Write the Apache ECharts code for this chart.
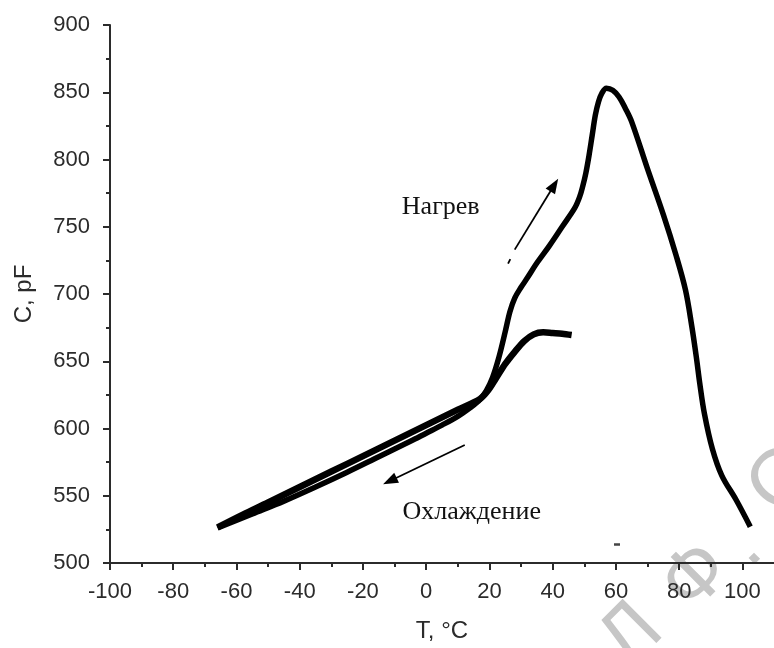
<!DOCTYPE html>
<html>
<head>
<meta charset="utf-8">
<script src="https://cdn.jsdelivr.net/npm/echarts@6/dist/echarts.min.js"></script>
<style>
  html, body { margin: 0; padding: 0; background: #fff; }
  #chart { width: 774px; height: 648px; }
</style>
</head>
<body>
<div id="chart"></div>
<script>
// heating branch (Нагрев): T, C
const heatT = [-66, -55, -45, -35, -25, -15, -5, 0, 5, 10, 14, 17, 19, 21, 23, 25, 26.5, 28, 30, 32, 35, 39, 43, 47, 48.5, 49.5, 50.5, 51.5, 52.5, 53.5, 54.5, 55.5, 57, 59, 61, 63, 65, 70, 75, 79, 82, 84, 85.5, 86.5, 88, 90.5, 93.5, 98, 102.5]
const heatC = [526, 536.5, 546, 556.5, 567.5, 579, 590.5, 596.5, 602.5, 609, 615.5, 621.5, 628, 638, 653, 672, 687, 697, 705, 712, 723, 736, 750, 764, 772, 780, 790, 803, 818, 833, 843, 849, 853, 851.5, 846.5, 838, 828, 793, 759, 729, 703, 676, 652, 634, 611, 585, 565, 547, 527]

// cooling branch (Охлаждение)
const coolT = [46, 43, 40, 37, 34, 31, 28, 25, 22, 19.5, 17, 10, 0, -10, -20, -30, -40, -50, -58, -66]
const coolC = [669.5, 670.5, 671, 671.5, 670, 665, 657, 648, 637, 628, 622, 614, 602.5, 591, 579.5, 568, 556.5, 545, 536, 526.5]

const xTicks = [-100, -80, -60, -40, -20, 0, 20, 40, 60, 80, 100]

// arrows and small strokes: [start, end] in data units
const heatArrow = [[28, 733], [40.5, 781]]
const heatDash = [[25.9, 722.5], [26.6, 726]]
const coolArrow = [[12.2, 587.7], [-11.5, 561]]
const strayDash = [[59.4, 513.6], [61.3, 513.6]]

const labelFont = 'Liberation Sans, Arial, sans-serif'
const textFont = 'Liberation Serif, Times New Roman, serif'
const ink = '#2b2b2b'
const mark = '#c6c6c6'

let chart = echarts.init(document.getElementById('chart'), null, { renderer: 'canvas' })

function zip(a, b) {
  return a.map((v, i) => [v, b[i]])
}

function arrowLine(p) {
  return [
    { coord: p[0], symbol: 'none' },
    { coord: p[1], symbol: 'triangle', symbolSize: [11, 15] },
  ]
}

function plainLine(p, style) {
  return [
    { coord: p[0], symbol: 'none', lineStyle: style },
    { coord: p[1], symbol: 'none' },
  ]
}

function stamp(text, x, y, va) {
  return {
    type: 'text', z: -10, x, y, rotation: Math.PI / 4,
    style: { text, font: '80px Liberation Sans', fill: mark, align: 'center', verticalAlign: va || 'middle' },
  }
}

chart.setOption({
  animation: false,
  backgroundColor: '#fff',
  grid: { left: 110, right: 0, top: 25, bottom: 85 },
  xAxis: {
    type: 'value',
    min: -100,
    max: 110,
    interval: 20,
    name: 'T, °C',
    nameLocation: 'middle',
    nameGap: 56,
    nameTextStyle: { fontFamily: labelFont, fontSize: 24, color: ink },
    axisLine: { show: true, onZero: false, lineStyle: { color: ink, width: 2 } },
    axisTick: { show: true, length: 7, customValues: xTicks, lineStyle: { color: ink, width: 2 } },
    minorTick: { show: true, splitNumber: 2, length: 4, lineStyle: { color: ink, width: 2 } },
    axisLabel: { customValues: xTicks, margin: 18, fontFamily: labelFont, fontSize: 22, color: ink },
    splitLine: { show: false },
  },
  yAxis: {
    type: 'value',
    min: 500,
    max: 900,
    interval: 50,
    name: 'C, pF',
    nameLocation: 'middle',
    nameGap: 74,
    nameTextStyle: { fontFamily: labelFont, fontSize: 24, color: ink },
    axisLine: { show: true, onZero: false, lineStyle: { color: ink, width: 2 } },
    axisTick: { show: true, length: 7, lineStyle: { color: ink, width: 2 } },
    minorTick: { show: true, splitNumber: 2, length: 4, lineStyle: { color: ink, width: 2 } },
    axisLabel: { margin: 20, fontFamily: labelFont, fontSize: 22, color: ink },
    splitLine: { show: false },
  },
  graphic: [
    stamp('Л', 632, 636),
    stamp('Ф', 697, 578),
    stamp('.', 770, 574, 'bottom'),
    stamp('С', 782, 482),
  ],
  series: [
    {
      name: 'Нагрев',
      type: 'line',
      data: zip(heatT, heatC),
      showSymbol: false,
      smooth: 0.35,
      lineStyle: { color: '#000', width: 5.5, cap: 'butt', join: 'round' },
      z: 3,
      markLine: {
        silent: true,
        animation: false,
        label: { show: false },
        lineStyle: { color: '#000', width: 1.8, type: 'solid' },
        emphasis: { disabled: true },
        data: [
          arrowLine(heatArrow),
          arrowLine(coolArrow),
          plainLine(heatDash),
          plainLine(strayDash, { color: '#444', width: 2.5 }),
        ],
      },
      markPoint: {
        silent: true,
        symbol: 'circle',
        symbolSize: 0,
        label: { show: true, position: 'inside', formatter: '{b}', fontFamily: textFont, fontSize: 26, color: '#111' },
        data: [
          { name: 'Нагрев', coord: [4.6, 764.7] },
          { name: 'Охлаждение', coord: [14.4, 538] },
        ],
      },
    },
    {
      name: 'Охлаждение',
      type: 'line',
      data: zip(coolT, coolC),
      showSymbol: false,
      smooth: 0.3,
      lineStyle: { color: '#000', width: 6.5, cap: 'butt', join: 'round' },
      z: 4,
    },
  ],
})
</script>
</body>
</html>
